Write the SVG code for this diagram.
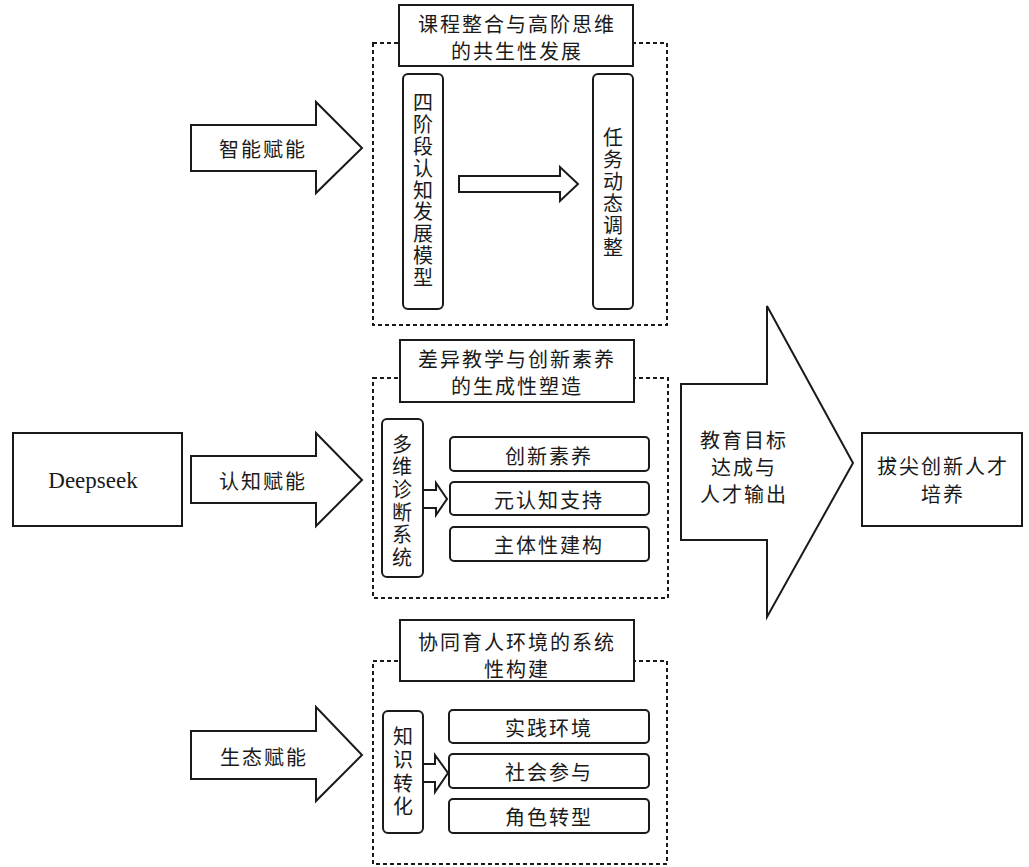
<svg xmlns="http://www.w3.org/2000/svg" width="1029" height="867" viewBox="0 0 1029 867">
<style>
.bx{fill:#fff;stroke:#1a1a1a;stroke-width:2}
.dash{fill:none;stroke:#1a1a1a;stroke-width:2;stroke-dasharray:4 3}
.ar{fill:#fff;stroke:#1a1a1a;stroke-width:2;stroke-linejoin:miter}
.t{font-family:"Noto Sans CJK SC","Noto Sans",sans-serif;font-size:20px;fill:#1a1a1a;text-anchor:middle;dominant-baseline:central;letter-spacing:2px}
.v{font-family:"Noto Sans CJK SC","Noto Sans",sans-serif;font-size:20px;fill:#1a1a1a;text-anchor:middle;dominant-baseline:central;writing-mode:vertical-rl;text-orientation:upright}
.en{font-family:"Liberation Serif",serif;font-size:23px;fill:#1a1a1a;text-anchor:middle;dominant-baseline:central}
</style>
<rect width="1029" height="867" fill="#fff"/>

<g id="connectors">
  <polygon class="ar" points="191,125 316,125 316,102 362,148 316,193 316,171 191,171"/>
  <text class="t" x="263" y="148">智能赋能</text>
  <polygon class="ar" points="191,456 316,456 316,433 362,480 316,526 316,503 191,503"/>
  <text class="t" x="263" y="480">认知赋能</text>
  <polygon class="ar" points="191,731 316,731 316,707 362,755 316,801 316,779 191,779"/>
  <text class="t" x="264" y="756">生态赋能</text>
  <polygon class="ar" points="459,176 560,176 560,167 578,184 560,201 560,192 459,192"/>
  <polygon class="ar" points="423,490 436,490 436,483 447,499 436,515 436,508 423,508"/>
  <polygon class="ar" points="423,764 435,764 435,755 448,773 435,792 435,782 423,782"/>
</g>

<g id="deepseek">
  <rect class="bx" x="13" y="433" width="169" height="93"/>
  <text class="en" x="93" y="480">Deepseek</text>
</g>

<g id="group-top">
  <rect class="dash" x="373" y="43" width="294" height="282"/>
  <rect class="bx" x="399" y="5" width="234" height="61"/>
  <text class="t" x="517" y="23">课程整合与高阶思维</text>
  <text class="t" x="517" y="50">的共生性发展</text>
  <rect class="bx" x="403" y="74" width="40" height="235" rx="5"/>
  <text class="v" x="423" y="191" letter-spacing="1.8">四阶段认知发展模型</text>
  <rect class="bx" x="593" y="74" width="40" height="235" rx="5"/>
  <text class="v" x="613" y="193" letter-spacing="2">任务动态调整</text>
</g>

<g id="group-middle">
  <rect class="dash" x="373" y="378" width="295" height="220"/>
  <rect class="bx" x="400" y="340" width="234" height="62"/>
  <text class="t" x="517" y="358">差异教学与创新素养</text>
  <text class="t" x="517" y="385">的生成性塑造</text>
  <rect class="bx" x="382" y="419" width="41" height="158" rx="5"/>
  <text class="v" x="402" y="502" letter-spacing="2.6">多维诊断系统</text>
  <rect class="bx" x="450" y="437" width="199" height="34" rx="4"/>
  <text class="t" x="549" y="455">创新素养</text>
  <rect class="bx" x="450" y="482" width="199" height="33" rx="4"/>
  <text class="t" x="549" y="499">元认知支持</text>
  <rect class="bx" x="450" y="527" width="199" height="34" rx="4"/>
  <text class="t" x="549" y="544">主体性建构</text>
</g>

<g id="group-bottom">
  <rect class="dash" x="373" y="661" width="294" height="203"/>
  <rect class="bx" x="400" y="620" width="234" height="61"/>
  <text class="t" x="517" y="641">协同育人环境的系统</text>
  <text class="t" x="517" y="668">性构建</text>
  <rect class="bx" x="383" y="711" width="40" height="122" rx="5"/>
  <text class="v" x="403" y="773" letter-spacing="3.3">知识转化</text>
  <rect class="bx" x="449" y="710" width="200" height="33" rx="4"/>
  <text class="t" x="549" y="727">实践环境</text>
  <rect class="bx" x="449" y="754" width="200" height="34" rx="4"/>
  <text class="t" x="549" y="771">社会参与</text>
  <rect class="bx" x="449" y="799" width="200" height="34" rx="4"/>
  <text class="t" x="549" y="816">角色转型</text>
</g>

<g id="output-arrow">
  <polygon class="ar" points="681,384 767,384 767,306 853,463 767,617 767,540 681,540"/>
  <text class="t" x="744" y="439">教育目标</text>
  <text class="t" x="744" y="466">达成与</text>
  <text class="t" x="744" y="493">人才输出</text>
</g>

<g id="talent">
  <rect class="bx" x="862" y="433" width="160" height="93"/>
  <text class="t" x="943" y="465">拔尖创新人才</text>
  <text class="t" x="943" y="493">培养</text>
</g>
</svg>
